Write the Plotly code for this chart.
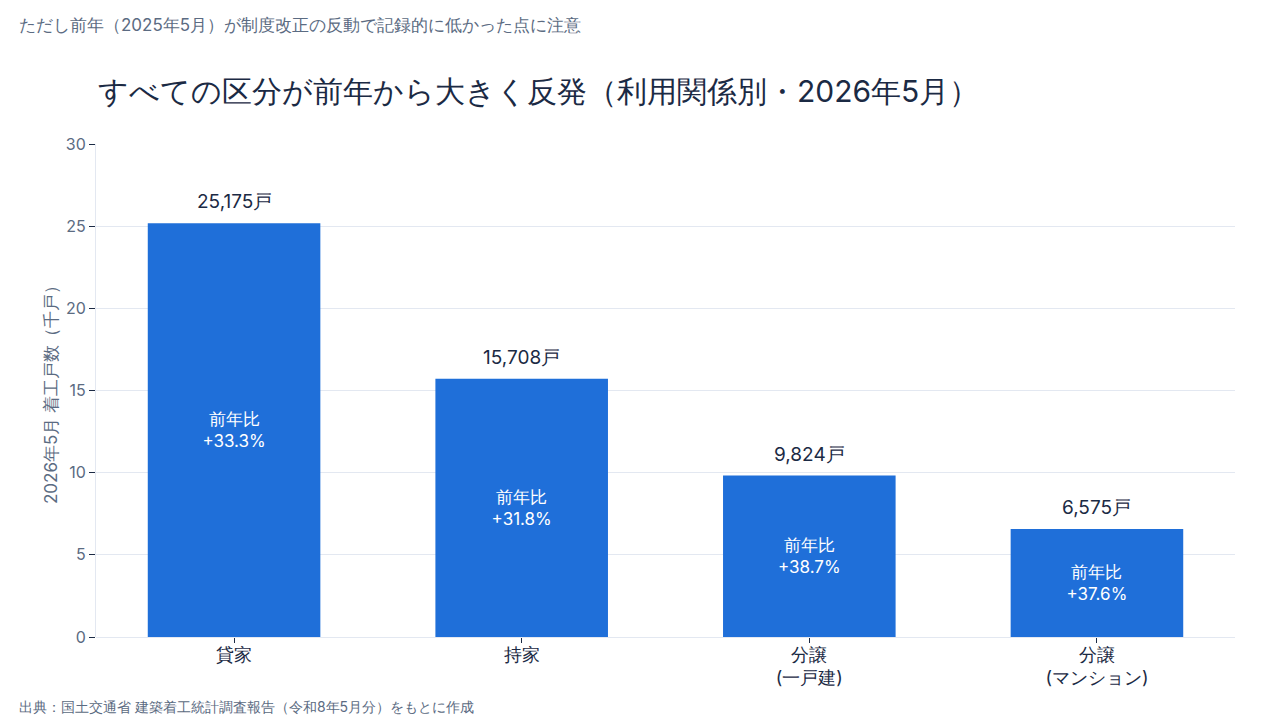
import plotly.graph_objects as go

categories = ["貸家", "持家", "分譲<br>(一戸建)", "分譲<br>(マンション)"]
starts_thousand = [25.175, 15.708, 9.824, 6.575]
value_labels = ["25,175戸", "15,708戸", "9,824戸", "6,575戸"]
yoy_labels = ["+33.3%", "+31.8%", "+38.7%", "+37.6%"]
y_ticks = [0, 5, 10, 15, 20, 25, 30]

FONT = "Inter, sans-serif"
NAVY = "#1b2a44"
GREY = "#5b6b82"
BAR = "#1f6fd9"
GRID = "#e3e8f1"

fig = go.Figure()
fig.add_trace(go.Bar(
    x=categories,
    y=starts_thousand,
    width=0.6,
    marker=dict(color=BAR, line=dict(width=0)),
    text=["前年比<br>" + s for s in yoy_labels],
    textposition="inside",
    insidetextanchor="middle",
    textfont=dict(family=FONT, size=17, color="white"),
    hoverinfo="skip",
))

for c, v, lab in zip(categories, starts_thousand, value_labels):
    fig.add_annotation(x=c, y=v, text=lab, showarrow=False, yanchor="bottom",
                       yshift=8, font=dict(family=FONT, size=19, color=NAVY))

fig.update_layout(
    width=1280, height=720,
    paper_bgcolor="white", plot_bgcolor="white",
    margin=dict(l=96, r=45, t=144, b=83),
    showlegend=False,
    bargap=0.4,
    font=dict(family=FONT, color=GREY),
    title=dict(text="すべての区分が前年から大きく反発（利用関係別・2026年5月）",
               x=98 / 1280, xanchor="left", xref="container",
               y=1 - 91 / 720, yanchor="middle", yref="container",
               font=dict(family=FONT, size=30, color=NAVY)),
    xaxis=dict(type="category", range=[-0.48, 3.48],
               tickfont=dict(family=FONT, size=18, color=NAVY),
               ticks="outside", ticklen=5, tickcolor=NAVY, tickwidth=1,
               ticklabelstandoff=-4,
               showline=False, showgrid=False),
    yaxis=dict(range=[0, 30], tickvals=y_ticks,
               tickfont=dict(family=FONT, size=16, color=GREY),
               ticks="outside", ticklen=6, tickcolor=NAVY, tickwidth=1,
               showgrid=True, gridcolor=GRID, gridwidth=1,
               showline=True, linecolor=GRID, linewidth=1,
               zeroline=True, zerolinecolor=GRID, zerolinewidth=1,
               title=dict(text="2026年5月 着工戸数（千戸）", standoff=3,
                          font=dict(family=FONT, size=17, color=GREY))),
)

fig.add_annotation(text="ただし前年（2025年5月）が制度改正の反動で記録的に低かった点に注意",
                   xref="paper", yref="paper", x=-(96 - 17) / 1139, y=1 + (144 - 25) / 493,
                   xanchor="left", yanchor="middle", showarrow=False,
                   font=dict(family=FONT, size=17, color=GREY))
fig.add_annotation(text="出典：国土交通省 建築着工統計調査報告（令和8年5月分）をもとに作成",
                   xref="paper", yref="paper", x=-(96 - 17) / 1139, y=-(706 - 637) / 493,
                   xanchor="left", yanchor="middle", showarrow=False,
                   font=dict(family=FONT, size=14, color=GREY))

fig.write_html("out.html")
